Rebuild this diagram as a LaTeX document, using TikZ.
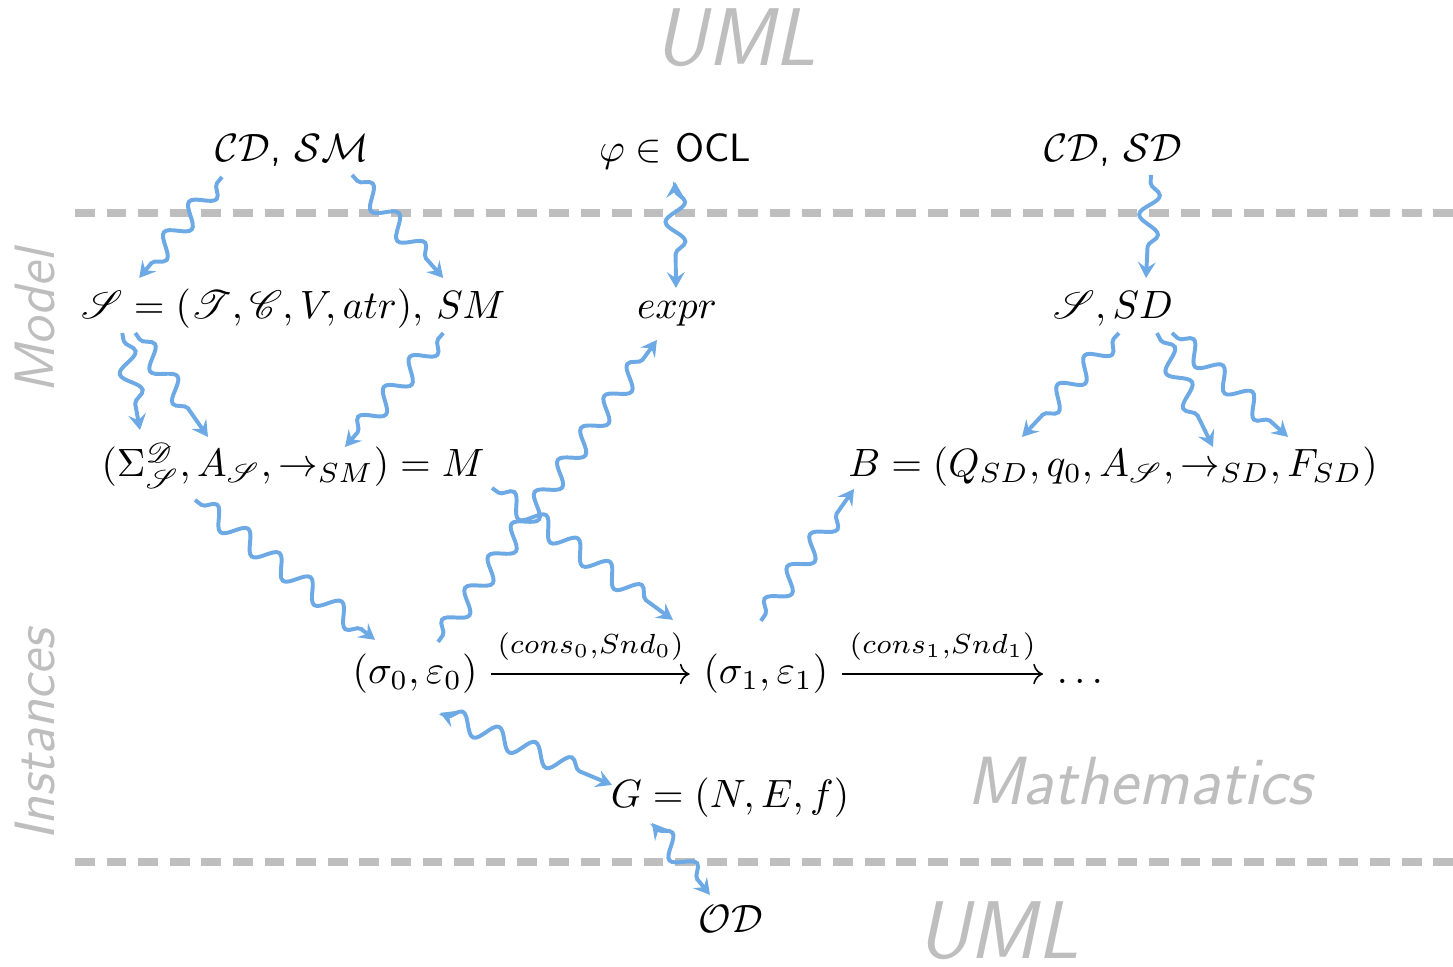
\documentclass[tikz,border=0pt]{standalone}
\usepackage{amsmath, amssymb}
\usepackage{mathrsfs}
\usepackage{tikz}
\usetikzlibrary{arrows.meta, calc, decorations.pathmorphing}

\definecolor{wavecol}{RGB}{108,169,229}
\definecolor{layergray}{RGB}{190,190,190}

\begin{document}
\begin{tikzpicture}[>={Stealth[length=4pt, width=4.5pt, inset=1.5pt]},
    term/.style={anchor=base, font=\sffamily},
    layer/.style={text=layergray, font=\sffamily\itshape},
    border/.style={layergray, line width=2pt, dash pattern=on 5pt off 3pt},
    wave/.style={draw=wavecol, line width=1pt, decorate,
        decoration={snake, amplitude=2.5pt, segment length=10pt, pre length=2pt, post length=4pt}}]
    \useasboundingbox (0,0) rectangle (12.932,8.606);

    % layers
    \draw[border] (0.668,6.711) -- (12.932,6.711);
    \draw[border] (0.668,0.935) -- (12.932,0.935);
    \node[layer, anchor=base, font=\sffamily\itshape\huge] (umltop) at (6.546,8.019) {UML};
    \node[layer, anchor=base, inner sep=0pt, font=\sffamily\itshape\huge] (umlbot) at (8.882,0.075) {UML};
    \node[layer, anchor=base, font=\sffamily\itshape\LARGE] (maths) at (10.140,1.442) {Mathematics};
    \node[layer, rotate=90, font=\sffamily\itshape\Large] (model) at (0.312,5.741) {Model};
    \node[layer, rotate=90, font=\sffamily\itshape\Large] (inst) at (0.312,2.065) {Instances};

    % terms
    \node[term] (cdsm) at (2.599,7.165) {$\mathcal{CD}$, $\mathcal{SM}$};
    \node[term] (ocl) at (6.008,7.165) {$\varphi \in$ OCL};
    \node[term] (cdsd) at (9.906,7.165) {$\mathcal{CD}$, $\mathcal{SD}$};
    \node[term] (sig) at (2.610,5.767) {$\mathscr{S} = (\mathscr{T}, \mathscr{C}, V, atr),\, SM$};
    \node[term] (expr) at (6.025,5.767) {$expr$};
    \node[term] (ssd) at (9.906,5.767) {$\mathscr{S}, SD$};
    \node[term] (mdef) at (2.608,4.361) {$(\Sigma^{\mathscr{D}}_{\mathscr{S}}, A_{\mathscr{S}}, \rightarrow_{SM}) = M$};
    \node[term] (b) at (9.906,4.361) {$B = (Q_{SD}, q_0, A_{\mathscr{S}}, \rightarrow_{SD}, F_{SD})$};
    \node[term] (s0) at (3.694,2.519) {$(\sigma_0, \varepsilon_0)$};
    \node[term] (s1) at (6.817,2.519) {$(\sigma_1, \varepsilon_1)$};
    \node[term, text height=7.5pt, text depth=2.5pt] (dots) at (9.612,2.519) {$\ldots$};
    \node[term] (g) at (6.497,1.415) {$G = (N, E, f)$};
    \node[term] (od) at (6.506,0.303) {$\mathcal{OD}$};

    % runs
    \draw[-To] (s0) -- node[above] {$\scriptstyle (cons_0,Snd_0)$} (s1);
    \draw[-To] (s1) -- node[above] {$\scriptstyle (cons_1,Snd_1)$} (dots);

    % translations
    \draw[wave, ->] ($(cdsm.base)+(-0.623,-0.134)$) -- ($(sig.base)+(-1.371,0.365)$);
    \draw[wave, ->] ($(cdsm.base)+(0.534,-0.116)$) -- ($(sig.base)+(1.335,0.365)$);
    \draw[wave, <->] ($(ocl.base)+(0,-0.178)$) -- ($(expr.base)+(-0.009,0.276)$);
    \draw[wave, ->] ($(cdsd.base)+(0.338,-0.116)$) -- ($(ssd.base)+(0.294,0.365)$);
    \draw[wave, ->] ($(sig.base)+(-1.522,-0.125)$) -- ($(mdef.base)+(-1.362,0.418)$);
    \draw[wave, ->] ($(sig.base)+(-1.406,-0.125)$) -- ($(mdef.base)+(-0.757,0.356)$);
    \draw[wave, ->] ($(sig.base)+(1.335,-0.125)$) -- ($(mdef.base)+(0.463,0.267)$);
    \draw[wave, ->] ($(ssd.base)+(0.053,-0.125)$) -- ($(b.base)+(-0.810,0.356)$);
    \draw[wave, ->] ($(ssd.base)+(0.392,-0.125)$) -- ($(b.base)+(0.890,0.267)$);
    \draw[wave, ->] ($(ssd.base)+(0.525,-0.125)$) -- ($(b.base)+(1.558,0.356)$);
    \draw[wave, ->] ($(mdef.base)+(-0.872,-0.205)$) -- ($(s0.base)+(-0.356,0.392)$);
    \draw[wave, ->] ($(mdef.base)+(1.771,-0.098)$) -- ($(s1.base)+(-0.828,0.570)$);
    \draw[wave, ->] ($(s0.base)+(0.205,0.374)$) -- ($(expr.base)+(-0.178,-0.187)$);
    \draw[wave, ->] ($(s1.base)+(-0.045,0.561)$) -- ($(b.base)+(-2.305,-0.107)$);
    \draw[wave, <->] ($(s0.base)+(0.223,-0.258)$) -- ($(g.base)+(-1.050,0.205)$);
    \draw[wave, <->] ($(g.base)+(-0.694,-0.134)$) -- ($(od.base)+(-0.187,0.338)$);
\end{tikzpicture}
\end{document}
